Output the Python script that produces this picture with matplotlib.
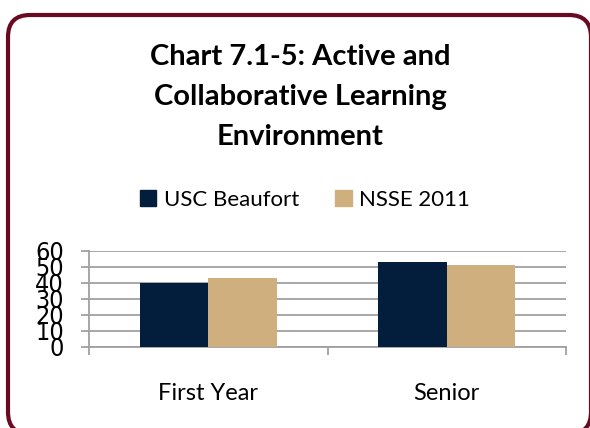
import matplotlib
matplotlib.use("Agg")
import matplotlib.pyplot as plt
from matplotlib.patches import FancyBboxPatch, Patch
from matplotlib.transforms import IdentityTransform

# data
categories = ["First Year", "Senior"]
series_names = ["USC Beaufort", "NSSE 2011"]
usc_beaufort = [40, 53]
nsse_2011 = [43, 51]
yticks = [0, 10, 20, 30, 40, 50, 60]

navy = "#021E3C"
tan = "#CEAF7D"
maroon = "#6A0A22"
grid_gray = "#A0A0A0"

W, H = 590, 428
fig = plt.figure(figsize=(W / 100, H / 100), dpi=100)

# rounded frame around the whole chart
frame = FancyBboxPatch((8, -6), 583, H - 15 + 6,
                       boxstyle="round,pad=0,rounding_size=22",
                       transform=IdentityTransform(), fill=False,
                       edgecolor=maroon, linewidth=3.0)
fig.patches.append(frame)

ax = fig.add_axes([89 / W, (H - 347) / H, 477 / W, 96 / H])

x = list(range(len(categories)))
bw = 0.287
ax.bar([i - bw / 2 for i in x], usc_beaufort, width=bw, color=navy, zorder=3)
ax.bar([i + bw / 2 for i in x], nsse_2011, width=bw, color=tan, zorder=3)

ax.set_xlim(-0.5, len(categories) - 0.5)
ax.set_ylim(0, 60)

# gridlines
ax.set_yticks(yticks)
ax.yaxis.grid(True, color=grid_gray, linewidth=1.3, zorder=0)
ax.set_yticklabels([str(v) for v in yticks], family=["DejaVu Sans"],
                   fontstretch="condensed", fontsize=18)
ax.tick_params(axis="y", length=6, width=1.3, color=grid_gray, pad=12)

# category boundaries as major ticks, names as minor ticks
ax.set_xticks([i - 0.5 for i in range(len(categories) + 1)])
ax.set_xticklabels([])
ax.tick_params(axis="x", which="major", length=6, width=1.3, color=grid_gray)
ax.set_xticks(x, minor=True)
ax.set_xticklabels(categories, minor=True, family="Lato", fontsize=17)
ax.tick_params(axis="x", which="minor", length=0, pad=26)

for side in ["top", "right"]:
    ax.spines[side].set_visible(False)
ax.spines["left"].set_color(grid_gray)
ax.spines["left"].set_linewidth(1.3)
ax.spines["bottom"].set_color(grid_gray)
ax.spines["bottom"].set_linewidth(1.3)

fig.text(300 / W, 1 - 97 / H,
         "Chart 7.1-5: Active and\nCollaborative Learning\nEnvironment",
         ha="center", va="center", family="Lato", fontweight="bold",
         fontsize=21, linespacing=1.68)

handles = [Patch(color=navy), Patch(color=tan)]
fig.legend(handles, series_names, loc="center",
           bbox_to_anchor=(305 / W, 1 - 200 / H), ncol=2, frameon=False,
           prop={"family": "Lato", "size": 16}, handlelength=0.75,
           handleheight=0.75, handletextpad=0.35, columnspacing=1.6)

fig.savefig("out.png", dpi=100)
